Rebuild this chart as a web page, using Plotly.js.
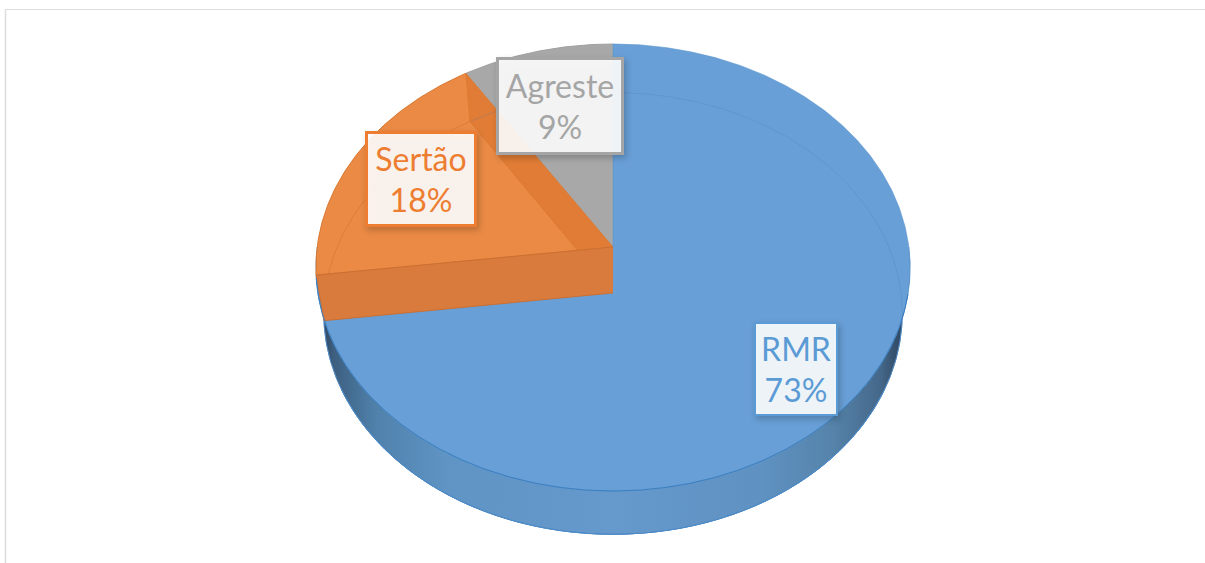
<!DOCTYPE html>
<html>
<head>
<meta charset="utf-8">
<script src="https://cdn.plot.ly/plotly-3.0.1.min.js"></script>
<style>
html,body{margin:0;padding:0;background:#fff;overflow:hidden}
#chart{width:1205px;height:563px}
.annotation rect{filter:drop-shadow(2px 3px 3px rgba(0,0,0,.22))}
</style>
</head>
<body>
<div id="chart"></div>
<script>
// Chart data
const categories = ['RMR', 'Sertão', 'Agreste'];
const shares = [73, 18, 9];
const labelText = ['73%', '18%', '9%'];

// Styling and projection of the tilted disc
const topDisc = {cx: 613, cy: 247, a: 295.8, c: 221.6, k: 0.0917};
const lowDisc = {cx: 613, cy: 293, a: 288, c: 219, k: 0.0925};
const sliceFill = ['#689fd6', '#ea8a45', '#a8a8a8'];
const sliceLine = ['#5b94cc', '#d9772f', '#a0a0a0'];
const textColors = ['#5b9bd5', '#ed7d31', '#a5a5a5'];
const labelCentre = [[795.5, 368.5], [420.5, 178.5], [559.5, 105.5]];
const labelSize = [[80, 90], [106, 90], [122, 92]];

function project(d, deg) {
  const t = deg * Math.PI / 180, u = Math.sin(t), v = Math.cos(t), w = 1 + d.k * v;
  return [d.cx + d.a * u / w, d.cy - d.c * v / w];
}
function arc(d, from, to) {
  const n = Math.max(2, Math.ceil(Math.abs(to - from) * 2)), pts = [];
  for (let i = 0; i <= n; i++) pts.push(project(d, from + (to - from) * i / n));
  return pts;
}
function poly(pts, fill, line, width, extra) {
  return Object.assign({
    type: 'scatter', mode: 'lines', x: pts.map(p => p[0]), y: pts.map(p => p[1]),
    fill: 'toself', fillcolor: fill, line: {color: line, width: width === undefined ? 1 : width},
    hoverinfo: 'skip', showlegend: false
  }, extra || {});
}
function curve(pts, color, width) {
  return {type: 'scatter', mode: 'lines', x: pts.map(p => p[0]), y: pts.map(p => p[1]),
    line: {color: color, width: width}, hoverinfo: 'skip', showlegend: false};
}

// Slice boundaries in degrees, clockwise from the top, from the shares
const total = shares.reduce((a, b) => a + b, 0);
const edges = [0];
shares.forEach(s => edges.push(edges[edges.length - 1] + s / total * 360));
const apexTop = [topDisc.cx, topDisc.cy], apexLow = [lowDisc.cx, lowDisc.cy];

const wallGradient = {
  type: 'horizontal',
  colorscale: [[0, '#26384d'], [0.03, '#3d5f80'], [0.1, '#4f81ab'], [0.22, '#5f94c4'], [0.5, '#6699cc'],
               [0.75, '#5f92c2'], [0.87, '#5583aa'], [0.95, '#45688a'], [1, '#263a52']]
};
const wallPts = arc(topDisc, 90, 270).concat(arc(lowDisc, 270, 90));

const traces = [
  // outer wall of the disc, behind everything
  poly(arc(lowDisc, 0, 360), 'rgba(0,0,0,0)', '#4f8cc6', 1, {fill: 'none'}),
  poly(wallPts, '#6699cc', '#5b94cc', 0.8, {fillgradient: wallGradient}),
  // Agreste
  poly([apexTop].concat(arc(topDisc, edges[2], edges[3])), sliceFill[2], sliceLine[2], 1),
  // Sertão
  poly([apexTop].concat(arc(topDisc, edges[1], edges[2])), sliceFill[1], sliceLine[1], 1),
  // Sertão inner radial face
  poly([apexTop, project(topDisc, edges[2]), project(lowDisc, edges[2]), apexLow], '#e07c35', '#d9772f', 0.6),
  // RMR
  poly([apexTop].concat(arc(topDisc, edges[0], edges[1])), sliceFill[0], sliceLine[0], 0.6),
  // faint rim of the lower disc, seen through the top
  curve(arc(lowDisc, -32, 262), 'rgba(70,120,175,0.22)', 1),
  curve(arc(lowDisc, edges[1], edges[2]), 'rgba(200,100,30,0.35)', 1),
  // front radial face of Sertão
  poly([apexTop, project(topDisc, edges[1]), project(lowDisc, edges[1]), apexLow], '#d97b3c', '#cf6a25', 0.8),
  // dark front edge of the top surface
  curve(arc(topDisc, 102, 262), '#3a7fc1', 1),
  curve(arc(lowDisc, 115, 245), '#4a8ac8', 1)
];

const annotations = categories.map((c, i) => ({
  xref: 'x', yref: 'y', x: labelCentre[i][0], y: labelCentre[i][1],
  text: c + '<br>' + labelText[i], showarrow: false, align: 'center', valign: 'middle',
  width: labelSize[i][0], height: labelSize[i][1],
  font: {family: 'Lato, Carlito, sans-serif', size: 32, color: textColors[i]},
  bgcolor: 'rgba(255,255,255,0.9)', bordercolor: textColors[i], borderwidth: i === 0 ? 2 : 3, borderpad: 0
}));

const layout = {
  width: 1205, height: 563, margin: {l: 0, r: 0, t: 0, b: 0},
  paper_bgcolor: '#ffffff', plot_bgcolor: '#ffffff', showlegend: false,
  xaxis: {range: [0, 1205], visible: false, fixedrange: true},
  yaxis: {range: [563, 0], visible: false, fixedrange: true},
  annotations: annotations,
  shapes: [
    {type: 'line', xref: 'x', yref: 'y', x0: 5.5, x1: 1205, y0: 9.5, y1: 9.5, line: {color: '#dcdcdc', width: 1}},
    {type: 'line', xref: 'x', yref: 'y', x0: 5.5, x1: 5.5, y0: 9.5, y1: 563, line: {color: '#dcdcdc', width: 1.5}}
  ]
};
Plotly.newPlot('chart', traces, layout, {displayModeBar: false, staticPlot: true});
</script>
</body>
</html>
